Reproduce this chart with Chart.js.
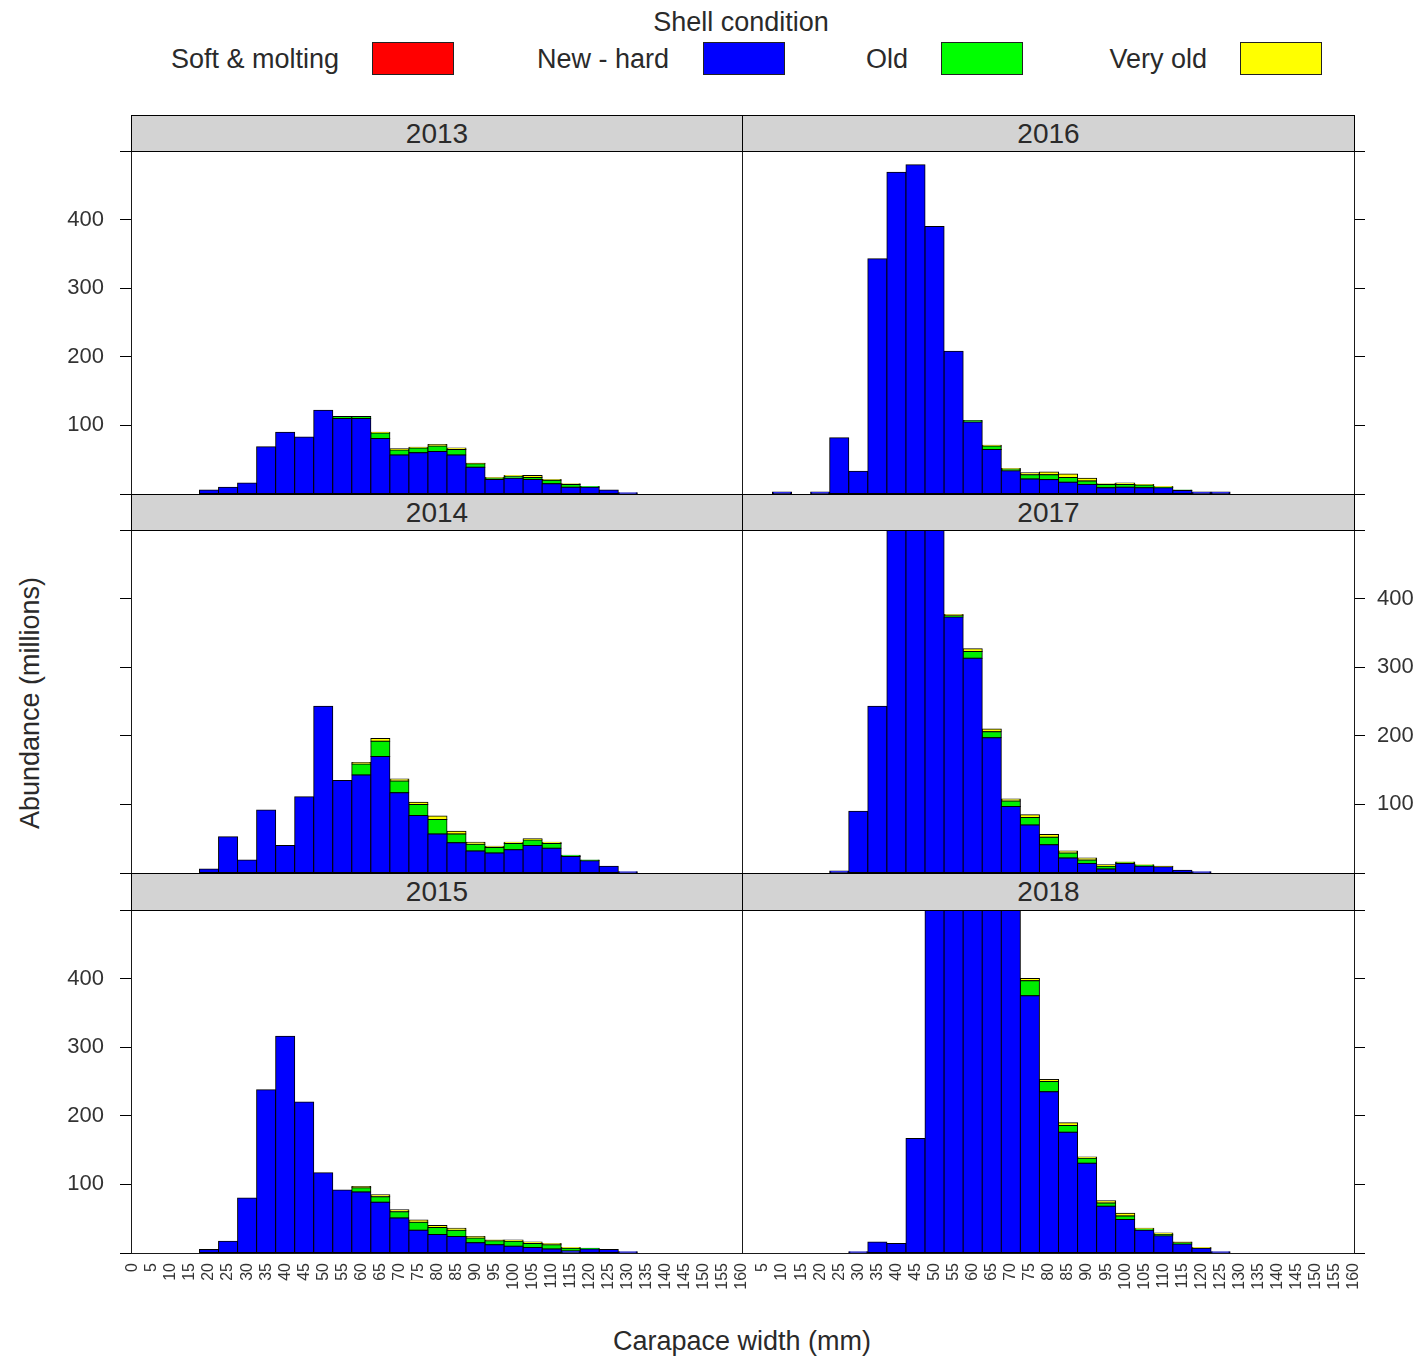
<!DOCTYPE html>
<html>
<head>
<meta charset="utf-8">
<script src="https://cdn.jsdelivr.net/npm/chart.js@4/dist/chart.umd.min.js"></script>
<style>
html,body{margin:0;padding:0;background:#fff;}
body{width:1426px;height:1358px;position:relative;overflow:hidden;font-family:"Liberation Sans",Arial,sans-serif;color:#2a2a2a;}
canvas{position:absolute;}
.strip{position:absolute;background:#d3d3d3;border:1px solid #000;box-sizing:border-box;text-align:center;font-size:28px;line-height:36px;z-index:5;}
.txt{position:absolute;white-space:nowrap;font-size:27px;line-height:32px;}
.box{position:absolute;border:1px solid #222;box-sizing:border-box;}
</style>
</head>
<body>
<div class="txt" style="left:541px;width:400px;top:6px;text-align:center;">Shell condition</div>
<div class="txt" style="left:0px;width:339px;top:43px;text-align:right;">Soft &amp; molting</div>
<div class="box" style="left:372px;top:42px;width:82px;height:33px;background:#ff0000;"></div>
<div class="txt" style="left:369px;width:300px;top:43px;text-align:right;">New - hard</div>
<div class="box" style="left:703px;top:42px;width:82px;height:33px;background:#0000ff;"></div>
<div class="txt" style="left:608px;width:300px;top:43px;text-align:right;">Old</div>
<div class="box" style="left:941px;top:42px;width:82px;height:33px;background:#00ff00;"></div>
<div class="txt" style="left:907px;width:300px;top:43px;text-align:right;">Very old</div>
<div class="box" style="left:1240px;top:42px;width:82px;height:33px;background:#ffff00;"></div>

<div class="txt" style="left:30px;top:703px;transform:translate(-50%,-50%) rotate(-90deg);">Abundance (millions)</div>
<div class="txt" style="left:742px;top:1341px;transform:translate(-50%,-50%);">Carapace width (mm)</div>

<div id="wrap"></div>

<script>
// ---- data ----
const bins = [0,5,10,15,20,25,30,35,40,45,50,55,60,65,70,75,80,85,90,95,100,105,110,115,120,125,130,135,140,145,150,155,160];
const yTickValues = [0,100,200,300,400,500];
const seriesNames = ['Soft & molting','New - hard','Old','Very old'];
const seriesColors = ['#ff0000','#0000ff','#00ee00','#ffff00'];

const soft2013    = [0,0,0,0,0,0,0,0,0,0,0,0,0,0,0,0,0,0,0,0,0,0,0,0,0,0,0,0,0,0,0,0,0];
const newHard2013 = [0,0,0,0,6,10,16,69,90,83,122,110,110,81,57,60,62,57,39,21,23,21,15,10,10,6,2,0,0,0,0,0,0];
const old2013     = [0,0,0,0,0,0,0,0,0,0,0,3,3,8,7,7,8,8,5,2,3,3,5,4,1,0,0,0,0,0,0,0,0];
const veryOld2013 = [0,0,0,0,0,0,0,0,0,0,0,0,0,1,2,1,2,2,1,1,1,3,1,1,0,0,0,0,0,0,0,0,0];

const soft2014    = [0,0,0,0,0,0,0,0,0,0,0,0,0,0,0,0,0,0,0,0,0,0,0,0,0,0,0,0,0,0,0,0,0];
const newHard2014 = [0,0,0,0,6,53,19,92,40,111,243,135,143,170,117,84,57,44,32,29,34,40,36,24,18,10,2,0,0,0,0,0,0];
const old2014     = [0,0,0,0,0,0,0,0,0,0,0,0,16,22,17,16,21,13,10,8,9,8,7,2,1,0,0,0,0,0,0,0,0];
const veryOld2014 = [0,0,0,0,0,0,0,0,0,0,0,0,2,4,3,3,5,4,3,2,2,2,2,0,0,0,0,0,0,0,0,0,0];

const soft2015    = [0,0,0,0,0,0,0,0,0,0,0,0,0,0,0,0,0,0,0,0,0,0,0,0,0,0,0,0,0,0,0,0,0];
const newHard2015 = [0,0,0,0,5,17,80,238,316,220,117,92,89,74,51,33,27,24,15,12,10,8,6,3,6,5,2,0,0,0,0,0,0];
const old2015     = [0,0,0,0,0,0,0,0,0,0,0,0,6,8,9,12,10,9,7,6,7,6,6,4,1,0,0,0,0,0,0,0,0];
const veryOld2015 = [0,0,0,0,0,0,0,0,0,0,0,0,2,3,3,3,3,3,2,1,2,2,2,1,0,0,0,0,0,0,0,0,0];

const soft2016    = [0,0,0,0,0,0,0,0,0,0,0,0,0,0,0,0,0,0,0,0,0,0,0,0,0,0,0,0,0,0,0,0,0];
const newHard2016 = [0,0,3,0,3,82,33,343,469,480,390,208,105,65,34,22,21,17,14,9,10,9,9,5,3,3,0,0,0,0,0,0,0];
const old2016     = [0,0,0,0,0,0,0,0,0,0,0,0,2,5,2,6,7,7,5,5,4,4,1,1,0,0,0,0,0,0,0,0,0];
const veryOld2016 = [0,0,0,0,0,0,0,0,0,0,0,0,0,1,1,3,4,5,4,1,2,1,1,0,0,0,0,0,0,0,0,0,0];

const soft2017    = [0,0,0,0,0,0,0,0,0,0,0,0,0,0,0,0,0,0,0,0,0,0,0,0,0,0,0,0,0,0,0,0,0];
const newHard2017 = [0,0,0,0,0,3,90,243,560,620,530,373,313,197,97,70,41,22,14,6,14,10,9,4,2,0,0,0,0,0,0,0,0];
const old2017     = [0,0,0,0,0,0,0,0,0,0,0,2,10,9,8,11,11,7,5,4,1,1,0,0,0,0,0,0,0,0,0,0,0];
const veryOld2017 = [0,0,0,0,0,0,0,0,0,0,0,2,4,4,3,4,4,3,3,2,1,1,1,0,0,0,0,0,0,0,0,0,0];

const soft2018    = [0,0,0,0,0,0,0,0,0,0,0,0,0,0,0,0,0,0,0,0,0,0,0,0,0,0,0,0,0,0,0,0,0];
const newHard2018 = [0,0,0,0,0,0,2,16,14,167,680,820,860,760,580,375,235,176,131,68,49,33,25,13,7,2,0,0,0,0,0,0,0];
const old2018     = [0,0,0,0,0,0,0,0,0,0,0,0,0,0,0,22,15,10,7,5,5,2,2,2,0,0,0,0,0,0,0,0,0];
const veryOld2018 = [0,0,0,0,0,0,0,0,0,0,0,0,0,0,0,3,3,4,2,3,4,1,2,1,1,0,0,0,0,0,0,0,0];

// ---- layout ----
const colX = [[131,742],[742,1354]];
const rowY = [[151,494],[530,873],[910,1253]];
const stripY = [[115,152],[494,531],[873,911]];

const panels = [
  {year:'2013', series:[soft2013,newHard2013,old2013,veryOld2013], col:0,row:0, yLab:true,  xLab:false},
  {year:'2016', series:[soft2016,newHard2016,old2016,veryOld2016], col:1,row:0, yLab:false, xLab:false},
  {year:'2014', series:[soft2014,newHard2014,old2014,veryOld2014], col:0,row:1, yLab:false, xLab:false},
  {year:'2017', series:[soft2017,newHard2017,old2017,veryOld2017], col:1,row:1, yLab:true,  xLab:false},
  {year:'2015', series:[soft2015,newHard2015,old2015,veryOld2015], col:0,row:2, yLab:true,  xLab:true},
  {year:'2018', series:[soft2018,newHard2018,old2018,veryOld2018], col:1,row:2, yLab:false, xLab:true}
];

const frame = {
  id:'frame',
  afterDraw(chart){
    const {ctx, chartArea:a} = chart;
    ctx.save();
    ctx.strokeStyle = '#1a1a1a';
    ctx.lineWidth = 1;
    const l = Math.round(a.left), t = Math.round(a.top), r = Math.round(a.right), b = Math.round(a.bottom);
    ctx.strokeRect(l+0.5, t+0.5, r-l, b-t);
    ctx.restore();
  }
};

const M = 110, T = 20, B = 70;
const wrap = document.getElementById('wrap');
const FONT = '"Liberation Sans", Arial, sans-serif';
function zeroPad(s){ s.paddingTop = 0; s.paddingBottom = 0; s.paddingLeft = 0; s.paddingRight = 0; }

panels.forEach(p => {
  const [x0,x1] = colX[p.col];
  const [y0,y1] = rowY[p.row];
  const cv = document.createElement('canvas');
  const w = (x1-x0) + 2*M, h = (y1-y0) + T + B;
  cv.width = w; cv.height = h;
  cv.style.left = (x0-M)+'px';
  cv.style.top = (y0-T)+'px';
  cv.style.width = w+'px';
  cv.style.height = h+'px';
  wrap.appendChild(cv);

  const [s0,s1] = stripY[p.row];
  const st = document.createElement('div');
  st.className = 'strip';
  st.style.left = x0+'px';
  st.style.top = s0+'px';
  st.style.width = (x1-x0+1)+'px';
  st.style.height = (s1-s0)+'px';
  st.textContent = p.year;
  wrap.appendChild(st);

  const leftSide = p.col === 0;
  new Chart(cv, {
    type:'bar',
    data:{
      datasets: seriesNames.map((name,k) => ({
        label:name,
        data: bins.map((b,i) => ({x:b, y:p.series[k][i]})),
        backgroundColor: seriesColors[k],
        borderColor:'#000',
        borderWidth:1,
        borderSkipped:false,
        inflateAmount:0.5,
        barPercentage:1,
        categoryPercentage:1
      }))
    },
    options:{
      responsive:false,
      maintainAspectRatio:false,
      animation:false,
      devicePixelRatio:1,
      layout:{padding:{left: leftSide ? 0 : M, right: leftSide ? M : 0, top:T, bottom:0}},
      plugins:{legend:{display:false}, tooltip:{enabled:false}, title:{display:false}},
      scales:{
        x:{
          type:'linear', bounds:'data', min:-0.5, max:160, offset:false, stacked:true, position:'bottom',
          afterBuildTicks: s => { s.ticks = bins.map(v => ({value:v})); },
          afterFit: s => { s.height = B; zeroPad(s); },
          grid:{display:false, drawTicks:false, offset:false},
          border:{display:false},
          ticks:{
            display:p.xLab, autoSkip:false, minRotation:90, maxRotation:90, padding:10,
            color:'#333', font:{size:16, family:FONT},
            callback:(v) => (p.col===1 && v===0) ? '' : String(v)
          }
        },
        y:{
          type:'linear', min:0, max:500, stacked:true, position: leftSide ? 'left' : 'right',
          afterBuildTicks: s => { s.ticks = yTickValues.map(v => ({value:v})); },
          afterFit: s => { s.width = M; zeroPad(s); },
          grid:{display:true, drawOnChartArea:false, drawTicks:true, tickLength:11, color:'#000', lineWidth:1},
          border:{display:false},
          ticks:{
            display:p.yLab, padding: leftSide ? 16 : 12,
            color:'#333', font:{size:22, family:FONT},
            callback:(v) => (v===0 || v===500) ? '' : String(v)
          }
        }
      }
    },
    plugins:[frame]
  });
});
</script>
</body>
</html>
